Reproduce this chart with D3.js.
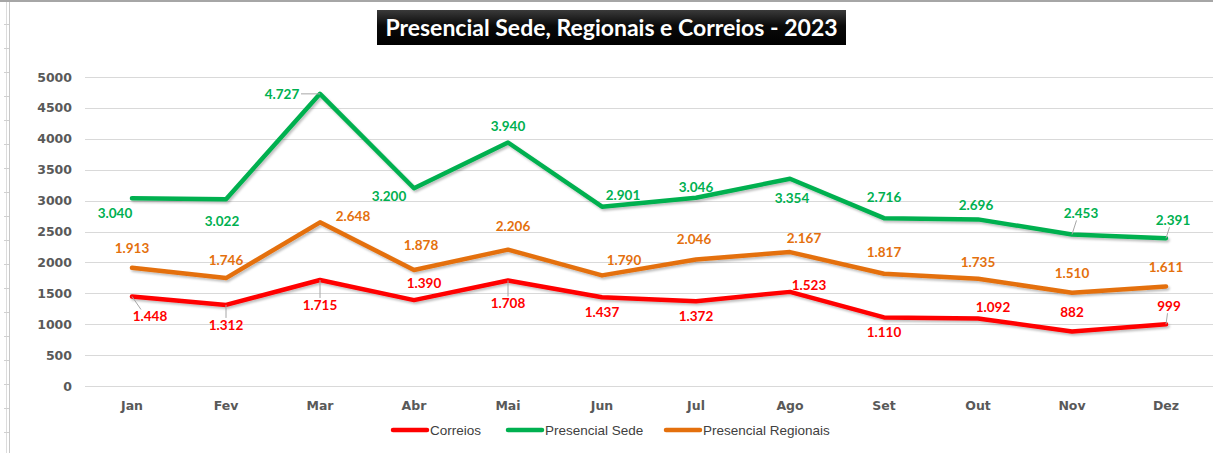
<!DOCTYPE html>
<html>
<head>
<meta charset="utf-8">
<script src="https://cdn.jsdelivr.net/npm/d3@7"></script>
<style>
  body { margin: 0; background: #fff; }
  svg { display: block; }
</style>
</head>
<body>
<script>
// chart values
var months = ["Jan", "Fev", "Mar", "Abr", "Mai", "Jun", "Jul", "Ago", "Set", "Out", "Nov", "Dez"];
var correios = [1448, 1312, 1715, 1390, 1708, 1437, 1372, 1523, 1110, 1092, 882, 999];
var sede = [3040, 3022, 4727, 3200, 3940, 2901, 3046, 3354, 2716, 2696, 2453, 2391];
var regionais = [1913, 1746, 2648, 1878, 2206, 1790, 2046, 2167, 1817, 1735, 1510, 1611];
var yTicks = [0, 500, 1000, 1500, 2000, 2500, 3000, 3500, 4000, 4500, 5000];
var seriesNames = ["Correios", "Presencial Sede", "Presencial Regionais"];
var chartTitle = "Presencial Sede, Regionais e Correios - 2023";

// where excel put each data label, relative to its point [dx, dy]
var sedeLabelPos = [[-17, 15], [-4, 22], [-38, 0], [-25, 8], [0, -16], [21, -11], [0, -10], [2, 20], [0, -21], [-2, -14], [9, -21], [7, -18]];
var regLabelPos = [[0, -20], [0, -18], [33, -6], [7, -25], [5, -23], [22, -15], [-2, -20], [14, -14], [0, -21], [0, -17], [0, -19], [0, -19]];
var corLabelPos = [[18, 20], [0, 20], [0, 25], [10, -17], [0, 23], [0, 15], [0, 15], [19, -7], [0, 15], [15, -11], [0, -19], [3, -18]];
var leaders = { sede: [2, 10, 11], cor: [0, 1, 2, 4, 11] };

var W = 1213, H = 453;
var colors = { cor: "#ff0000", sede: "#00b050", reg: "#e4700d" };

var svg = d3.select("body").append("svg")
    .attr("width", W)
    .attr("height", H);

// worksheet frame bits
svg.append("line").attr("x1", 0).attr("x2", W).attr("y1", 1).attr("y2", 1)
    .attr("stroke", "#a6a6a6").attr("stroke-width", 2);
svg.append("line").attr("x1", 9.5).attr("x2", 9.5).attr("y1", 2).attr("y2", H)
    .attr("stroke", "#c8c8c8");
svg.append("line").attr("x1", 6.5).attr("x2", 6.5).attr("y1", 2).attr("y2", H)
    .attr("stroke", "#dcdcdc");
d3.range(24, H, 24).forEach(function(y) {
    svg.append("line").attr("x1", 4).attr("x2", 9).attr("y1", y + 0.5).attr("y2", y + 0.5)
        .attr("stroke", "#d0d0d0");
});

var x = d3.scaleBand().domain(months).range([85, 1213]);
var y = d3.scaleLinear().domain([0, 5000]).range([386, 77]);
var cx = function(i) { return x(months[i]) + x.bandwidth() / 2; };

// gridlines
svg.append("g").selectAll("line")
    .data(yTicks)
    .enter().append("line")
    .attr("x1", 85).attr("x2", W)
    .attr("y1", function(d) { return Math.round(y(d)) + 0.5; })
    .attr("y2", function(d) { return Math.round(y(d)) + 0.5; })
    .attr("stroke", "#d9d9d9");

// y axis labels
var yAxis = svg.append("g")
    .attr("transform", "translate(72,0)")
    .call(d3.axisLeft(y).tickValues(yTicks).tickSize(0).tickPadding(0).tickFormat(d3.format("d")));
yAxis.select(".domain").remove();
yAxis.selectAll("text")
    .attr("font-family", "DejaVu Sans")
    .attr("font-weight", "bold")
    .attr("font-size", 12.5)
    .attr("fill", "#595959");

// x axis labels
var xAxis = svg.append("g")
    .attr("transform", "translate(0,401)")
    .call(d3.axisBottom(x).tickSize(0).tickPadding(0));
xAxis.select(".domain").remove();
xAxis.selectAll("text")
    .attr("font-family", "DejaVu Sans")
    .attr("font-weight", "bold")
    .attr("font-size", 12.5)
    .attr("fill", "#595959");

// soft shadow like excel
var defs = svg.append("defs");
var f = defs.append("filter").attr("id", "shd").attr("x", "-5%").attr("y", "-20%").attr("width", "110%").attr("height", "140%");
f.append("feDropShadow").attr("dx", 1.5).attr("dy", 2).attr("stdDeviation", 1.2)
    .attr("flood-color", "#000").attr("flood-opacity", 0.25);

var line = d3.line()
    .x(function(d, i) { return cx(i); })
    .y(function(d) { return y(d); });

var series = [
    { key: "cor", vals: correios, pos: corLabelPos },
    { key: "sede", vals: sede, pos: sedeLabelPos },
    { key: "reg", vals: regionais, pos: regLabelPos }
];

series.forEach(function(s) {
    svg.append("path")
        .datum(s.vals)
        .attr("d", line)
        .attr("fill", "none")
        .attr("stroke", colors[s.key])
        .attr("stroke-width", 4.5)
        .attr("stroke-linejoin", "round")
        .attr("stroke-linecap", "round")
        .attr("filter", "url(#shd)");
});

// leader lines
["sede", "cor"].forEach(function(k) {
    var s = series.filter(function(d) { return d.key === k; })[0];
    leaders[k].forEach(function(i) {
        var p = s.pos[i];
        var x0 = cx(i), y0 = y(s.vals[i]);
        var x1, y1;
        if (Math.abs(p[0]) > 25 && Math.abs(p[1]) < 5) { x1 = x0 + p[0] + 19; y1 = y0; }
        else { x1 = x0 + p[0] * 0.5; y1 = y0 + p[1] - (p[1] > 0 ? 7 : -7); }
        svg.append("line")
            .attr("x1", x0).attr("y1", y0).attr("x2", x1).attr("y2", y1)
            .attr("stroke", "#a6a6a6").attr("stroke-width", 1);
    });
});

// data labels
var fmt = d3.formatLocale({ decimal: ",", thousands: ".", grouping: [3], currency: ["", ""] }).format(",d");
series.forEach(function(s) {
    svg.append("g").selectAll("text")
        .data(s.vals)
        .enter().append("text")
        .attr("x", function(d, i) { return cx(i) + s.pos[i][0]; })
        .attr("y", function(d, i) { return y(d) + s.pos[i][1]; })
        .attr("dy", "0.35em")
        .attr("text-anchor", "middle")
        .attr("font-family", "Lato")
        .attr("font-weight", "bold")
        .attr("font-size", 13.5)
        .attr("fill", colors[s.key])
        .text(function(d) { return fmt(d); });
});

// title box
var g = defs.append("linearGradient").attr("id", "tg").attr("x1", 0).attr("x2", 0).attr("y1", 0).attr("y2", 1);
g.append("stop").attr("offset", "0%").attr("stop-color", "#3a3a3a");
g.append("stop").attr("offset", "45%").attr("stop-color", "#0a0a0a");
g.append("stop").attr("offset", "100%").attr("stop-color", "#000");
svg.append("rect")
    .attr("x", 377).attr("y", 10).attr("width", 469).attr("height", 35)
    .attr("fill", "url(#tg)");
svg.append("text")
    .attr("x", 611.5).attr("y", 28)
    .attr("dy", "0.35em")
    .attr("text-anchor", "middle")
    .attr("font-family", "Lato")
    .attr("font-weight", "bold")
    .attr("font-size", 23)
    .attr("fill", "#fff")
    .text(chartTitle);

// legend
var legendX = [393, 508, 666];
var legendKeys = ["cor", "sede", "reg"];
var lg = svg.append("g");
seriesNames.forEach(function(n, i) {
    lg.append("line")
        .attr("x1", legendX[i]).attr("x2", legendX[i] + 34)
        .attr("y1", 430).attr("y2", 430)
        .attr("stroke", colors[legendKeys[i]])
        .attr("stroke-width", 4.5)
        .attr("stroke-linecap", "round");
    lg.append("text")
        .attr("x", legendX[i] + 37).attr("y", 430)
        .attr("dy", "0.35em")
        .attr("font-family", "Liberation Sans")
        .attr("font-size", 13.5)
        .attr("fill", "#404040")
        .text(n);
});
</script>
</body>
</html>
